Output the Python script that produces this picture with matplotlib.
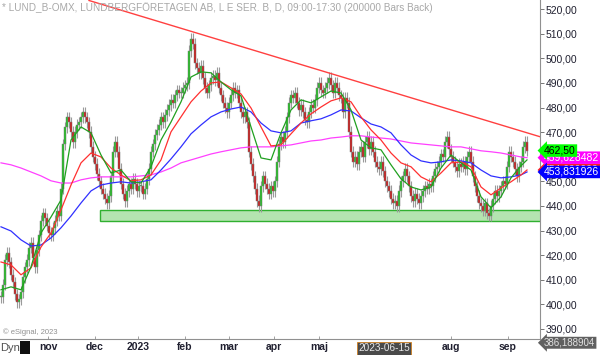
import numpy as np
import matplotlib
matplotlib.use('Agg')
import matplotlib.pyplot as plt
from matplotlib.patches import Rectangle

plt.rcParams['font.family'] = ['Liberation Sans', 'DejaVu Sans']

# daily closes, LUND_B, oct 2022 - sep 2023
closes = [
    403, 408, 418, 421, 417, 412, 409, 404, 401, 402,
    405, 411, 415, 418, 423, 425, 419, 415, 422, 428,
    434, 437, 435, 432, 429, 428, 431, 434, 438, 436,
    447, 465, 472, 476, 474, 470, 466, 470, 473, 474,
    476, 478, 476, 474, 470, 464, 460, 457, 453, 450,
    447, 445, 443, 441, 444, 452, 462, 466, 462, 455,
    449, 445, 442, 446, 449, 447, 451, 449, 446, 448,
    448, 445, 447, 451, 455, 462, 465, 469, 471, 473,
    476, 474, 477, 479, 481, 483, 482, 485, 487, 486,
    486, 488, 489, 490, 503, 508, 506, 498, 496, 494,
    497, 492, 488, 486, 489, 492, 493, 491, 494, 488,
    485, 482, 480, 478, 482, 485, 488, 486, 487, 482,
    478, 476, 478, 474, 462, 457, 452, 447, 442, 440,
    448, 452, 449, 447, 445, 448, 446, 450, 458, 465,
    468, 466, 470, 476, 482, 485, 484, 486, 482, 479,
    481, 478, 475, 474, 478, 481, 480, 483, 488, 490,
    487, 486, 488, 490, 492, 489, 486, 490, 488, 485,
    484, 478, 484, 482, 470, 462, 458, 460, 457, 462,
    464, 460, 466, 468, 463, 466, 462, 458, 456, 455,
    458, 454, 450, 448, 446, 443, 441, 442, 440, 446,
    450, 452, 455, 452, 448, 444, 442, 445, 443, 441,
    444, 446, 448, 447, 449, 448, 452, 455, 456, 458,
    461, 460, 466, 468, 463, 460, 458, 456, 454, 457,
    456, 458, 455, 460, 462, 458, 452, 448, 444, 441,
    440, 438, 441, 437, 436, 440, 443, 446, 444, 446,
    448, 450, 449, 456, 462, 460, 458, 455, 452, 456,
    458, 464, 466, 462.5,
]

# moving averages as drawn on the chart, every 5th bar + last bar
ma_bars = list(range(0, 261, 5)) + [263]
ma_green = [405.9, 407.1, 405.9, 415.2, 429.0, 435.5, 442.4, 466.8, 472.1, 469.7,
            460.7, 453.4, 454.6, 449.8, 449.3, 455.9, 466.8, 474.1, 482.3, 492.4,
            494.5, 494.1, 490.4, 487.2, 484.7, 472.1, 459.5, 458.7, 469.7, 479.0,
            483.1, 481.9, 484.3, 486.7, 485.9, 479.0, 466.8, 463.6, 462.8, 456.7,
            451.0, 447.7, 446.5, 447.7, 455.4, 460.7, 457.5, 454.6, 443.7, 439.2,
            443.7, 451.4, 456.3, 458.7]
ma_red = [417.2, 416.0, 412.0, 414.8, 423.3, 429.0, 438.4, 448.5, 457.5, 461.5,
          459.9, 455.4, 452.6, 450.2, 450.6, 452.6, 458.7, 470.1, 476.2, 482.3,
          486.7, 490.0, 490.4, 488.0, 485.5, 479.8, 472.1, 464.4, 464.8, 469.3,
          473.7, 477.4, 480.2, 482.7, 483.9, 482.3, 476.2, 470.9, 466.8, 461.5,
          457.5, 455.9, 451.8, 449.8, 453.4, 457.5, 457.9, 455.9, 447.7, 444.5,
          447.3, 449.8, 452.6, 454.6]
ma_blue = [431.5, 429.8, 426.2, 423.7, 424.1, 427.0, 431.1, 435.9, 441.2, 446.1,
           448.5, 449.3, 449.8, 449.3, 449.8, 450.6, 454.6, 459.1, 464.0, 469.3,
           472.9, 476.2, 478.2, 479.4, 480.2, 478.2, 473.7, 470.5, 469.7, 470.5,
           473.7, 474.6, 475.4, 477.0, 479.0, 478.6, 475.8, 473.3, 472.1, 469.7,
           464.8, 460.7, 458.3, 457.5, 457.9, 458.7, 458.3, 457.5, 454.6, 452.2,
           451.4, 451.8, 452.6, 453.8]
ma_magenta = [457.5, 456.7, 455.4, 453.8, 452.2, 450.2, 449.3, 449.3, 450.6, 451.4,
              451.8, 451.8, 451.8, 451.8, 452.2, 452.6, 453.8, 455.4, 457.5, 458.7,
              459.9, 461.1, 462.0, 462.8, 463.6, 464.0, 464.0, 464.0, 464.4, 464.8,
              465.6, 466.4, 466.8, 467.6, 468.0, 468.5, 468.5, 468.0, 467.6, 467.2,
              466.4, 465.6, 465.2, 464.8, 464.4, 464.0, 464.0, 463.2, 462.4, 462.0,
              461.5, 460.7, 459.9, 459.6]

# resistance trend line and support zone
trend_bars = [44, 270]
trend_prices = [523.5, 468.0]
support_start = 49.5
support_low, support_high = 433.9, 438.4

month_pos = [23.5, 47, 68.5, 92, 114, 136.5, 159, 225, 253.5]
month_lab = ['nov', 'dec', '2023', 'feb', 'mar', 'apr', 'maj', 'aug', 'sep']
yticks = list(range(390, 521, 10))

last_labels = [  # value, text, face colour, text colour
    (ma_red[-1], '454,600000', '#ff2020', 'white'),
    (ma_magenta[-1], '459,628482', '#ff00ff', 'white'),
    (ma_blue[-1], '453,831926', '#0000ff', 'white'),
    (closes[-1], '462,50', '#00ff00', 'black'),
]

fig = plt.figure(figsize=(6, 3.55), dpi=100)
ax = fig.add_axes([0, 16/355, 540/600, 339/355])
ax.set_xlim(-0.5, 269.5)
ax.set_ylim(385.9, 523.7)

# candles
c = np.array(closes, dtype=float)
o = np.r_[c[0], c[:-1]]
x = np.arange(len(c))
hi = np.maximum(o, c) + 2.3
lo = np.minimum(o, c) - 2.3
ax.vlines(x, lo, hi, color='#9a9a9a', lw=0.8, zorder=2)
up = c >= o
body = np.maximum(np.abs(c - o), 0.4)
ax.bar(x[up], body[up], bottom=o[up], width=0.9, color='#20c020',
       edgecolor='#808080', lw=0.35, zorder=3)
ax.bar(x[~up], body[~up], bottom=c[~up], width=0.9, color='#cc1818',
       edgecolor='#808080', lw=0.35, zorder=3)

# moving averages
ax.plot(ma_bars, ma_magenta, color='#ff40ff', lw=0.9, zorder=4)
ax.plot(ma_bars, ma_blue, color='#3030ff', lw=0.9, zorder=4)
ax.plot(ma_bars, ma_red, color='#ff3030', lw=0.9, zorder=4)
ax.plot(ma_bars, ma_green, color='#20a020', lw=0.9, zorder=4)

ax.plot(trend_bars, trend_prices, color='#ff4040', lw=1.0, zorder=5)
ax.add_patch(Rectangle((support_start, support_low), 270 - support_start,
                       support_high - support_low, fc='#b4e4b0', ec='#30b030',
                       lw=1.0, zorder=1))

# axes styling
for s in ['top', 'left']:
    ax.spines[s].set_visible(False)
ax.spines['right'].set_color('#909090')
ax.spines['bottom'].set_color('#909090')
ax.yaxis.tick_right()
ax.set_yticks(yticks)
ax.set_yticklabels(['%d,00' % v for v in yticks], fontsize=7.5, color='#202030')
ax.tick_params(axis='y', length=3, width=0.6, color='#606060', pad=1)
ax.set_xticks(month_pos)
ax.set_xticklabels(month_lab, fontsize=7.5, fontweight='bold', color='#202030')
ax.tick_params(axis='x', length=2, width=0.6, color='#909090', pad=2, direction='in')

# header / footer texts
fig.text(2/600, 1 - 8/355, '* LUND_B-OMX, LUNDBERGFÖRETAGEN AB, L E SER. B, D, 09:00-17:30 (200000 Bars Back)',
         fontsize=7.2, color='#a8a8a8', va='center')
fig.text(3/600, 1 - 332/355, '© eSignal, 2023', fontsize=5.5, color='#909090', va='center')
fig.text(0, 1 - 348/355, 'Dyn', fontsize=8, color='#505050', va='center')
fig.patches.append(Rectangle((20/600, 1 - 354/355), 10/600, 13/355, fc='#101010',
                             ec='none', transform=fig.transFigure, figure=fig))
fig.text(384/600, 1 - 348/355, '2023-06-15', fontsize=7.2, color='#e8e8e8', ha='center', va='center',
         bbox=dict(boxstyle='square,pad=0.15', fc='#4a4a4a', ec='#d08020', lw=0.6))

# last value tags on the price axis
for val, txt, fc, tc in last_labels:
    ax.annotate(txt, xy=(1.0, val), xycoords=('axes fraction', 'data'),
                xytext=(3, 0), textcoords='offset points', fontsize=7.5, color=tc,
                va='center', ha='left', annotation_clip=False, zorder=10,
                bbox=dict(boxstyle='larrow,pad=0.12', fc=fc, ec='none'))
ax.annotate('386,188904', xy=(1.0, 385.5), xycoords=('axes fraction', 'data'),
            xytext=(3, -2), textcoords='offset points', fontsize=7, color='#e0e0e0',
            va='center', ha='left', annotation_clip=False,
            bbox=dict(boxstyle='larrow,pad=0.1', fc='#606060', ec='none'))

fig.savefig('out.png', dpi=100)
